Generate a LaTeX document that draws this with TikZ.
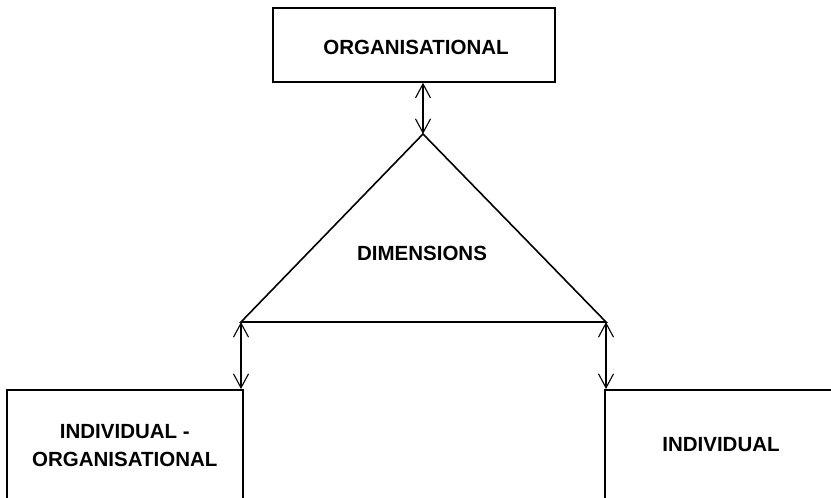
\documentclass[tikz,border=0pt]{standalone}
\usepackage{fontspec}
\setmainfont{Liberation Sans}
\usetikzlibrary{arrows.meta}

\begin{document}
\begin{tikzpicture}[x=1pt, y=-1pt,
  panel/.style={draw, line width=1.6pt, inner sep=0pt},
  caption/.style={font=\bfseries\fontsize{20.5}{28}\selectfont, align=center},
  link/.style={{Straight Barb[length=14pt,width=15pt]}-{Straight Barb[length=14pt,width=15pt]}, line width=1.1pt}]
  \useasboundingbox (0,0) rectangle (831,498);
  \node [panel, minimum width=282pt, minimum height=74pt] (org) at (414,45) {};
  \node [caption] (orgtext) at (416,47) {ORGANISATIONAL};
  \coordinate (apex) at (423,134);
  \coordinate (baseleft) at (241,322);
  \coordinate (baseright) at (606,322);
  \draw [line width=1.6pt] (apex) -- (baseleft) -- (baseright) -- cycle;
  \node [caption] (dims) at (422,253) {DIMENSIONS};
  \node [panel, minimum width=236pt, minimum height=112pt, anchor=north west] (indorg) at (6,389) {};
  \node [caption] (indorgtext) at (indorg.center) {INDIVIDUAL -\\ORGANISATIONAL};
  \node [panel, minimum width=236pt, minimum height=112pt, anchor=north west] (ind) at (604,389) {};
  \node [caption] (indtext) at (721,445) {INDIVIDUAL};
  \draw [link] (apex |- org.south) -- (apex);
  \draw [link] (baseleft) -- (baseleft |- indorg.north);
  \draw [link] (baseright) -- (baseright |- ind.north);
\end{tikzpicture}
\end{document}
